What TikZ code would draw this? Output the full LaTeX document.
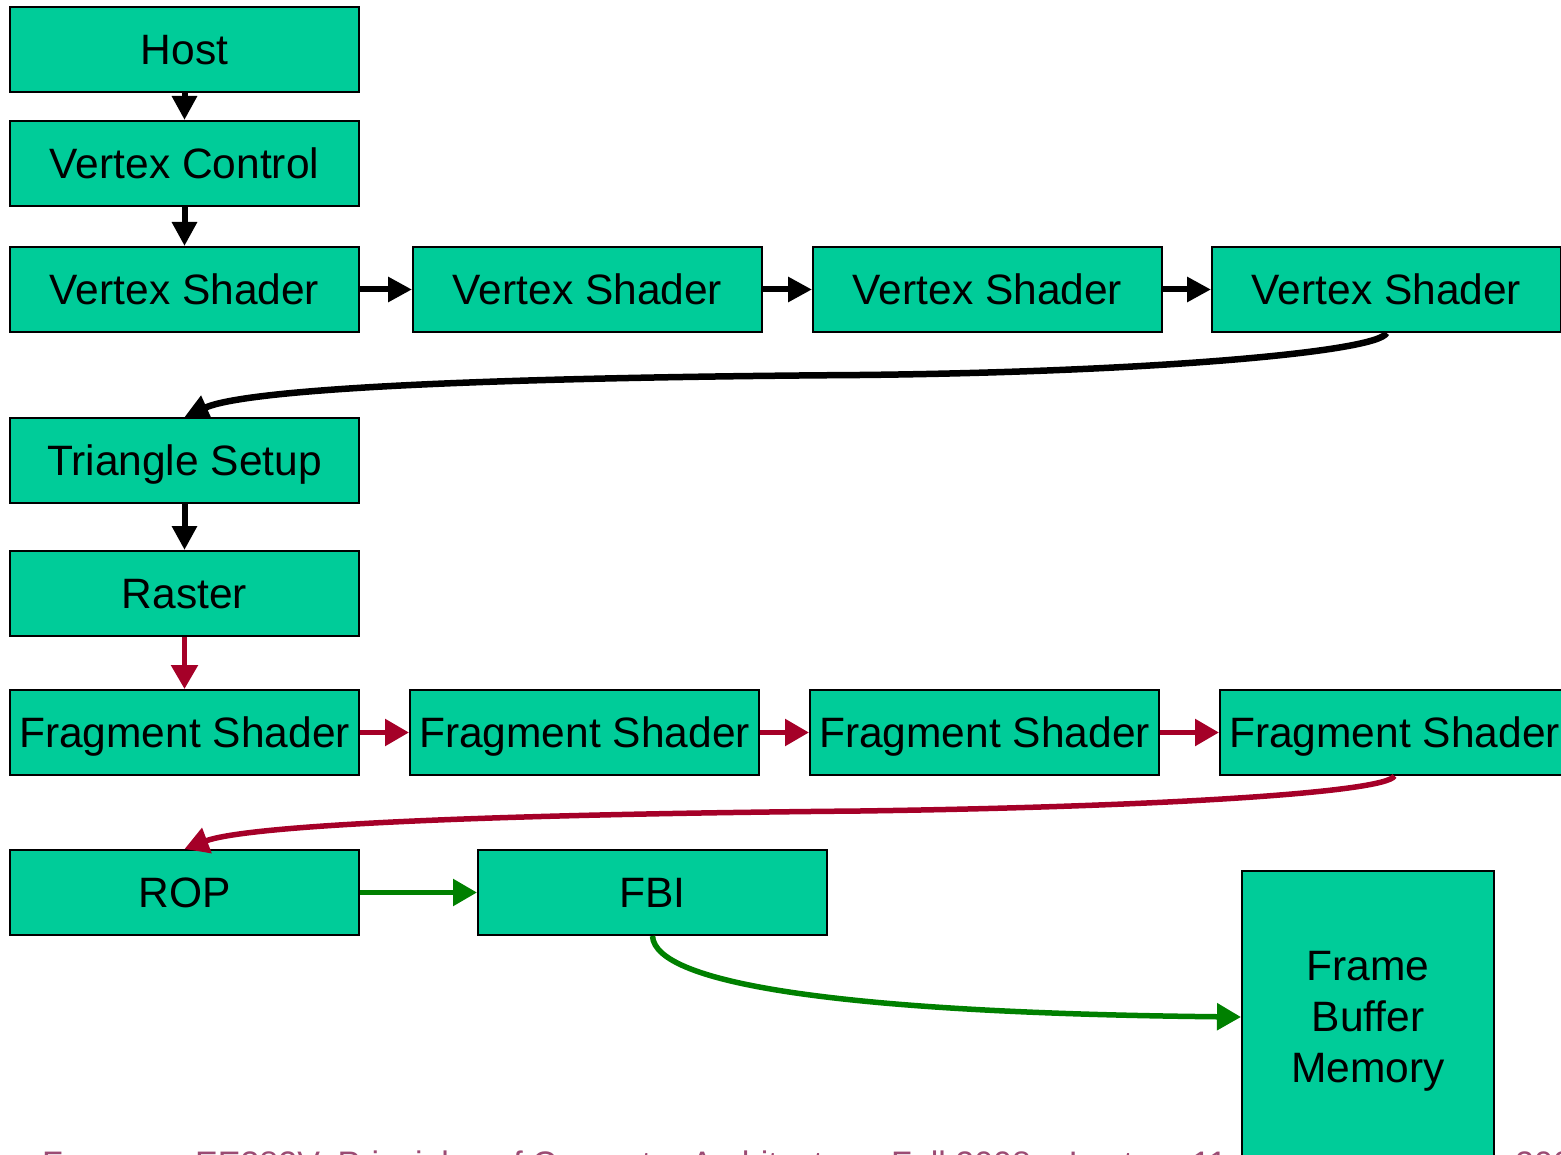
\documentclass[tikz,border=0pt]{standalone}
\usepackage{fontspec}
\setmainfont{Liberation Sans}
\usetikzlibrary{arrows.meta}
\definecolor{boxfill}{RGB}{0,204,153}
\definecolor{flowred}{RGB}{165,0,40}
\definecolor{flowgreen}{RGB}{0,128,0}
\definecolor{footcol}{RGB}{155,75,115}
\begin{document}
\begin{tikzpicture}[x=1pt,y=-1pt,
  stagebase/.style={draw=black, line width=2pt, fill=boxfill, minimum width=349pt,
    minimum height=85pt, inner sep=0pt, font=\fontsize{42.5}{51}\selectfont},
  stage/.style={stagebase, text height=30.5pt, text depth=0pt},
  flow/.style={line width=6pt, -{Triangle[width=24pt,length=24pt]}},
  bendflow/.style={flow, line width=6.5pt},
  redflow/.style={flow, line width=5.5pt, draw=flowred, -{Triangle[width=26pt,length=24pt]}},
  greenflow/.style={flow, line width=5.5pt, draw=flowgreen, -{Triangle[width=26pt,length=24pt]}},
  foottext/.style={anchor=base west, inner sep=0pt, text=footcol, font=\fontsize{34}{40}\selectfont}]
\useasboundingbox (0,0) rectangle (1561,1155);
\clip (0,0) rectangle (1561,1155);

% front end
\node[stage] (host) at (184.5,49.5)  {Host};
\node[stage] (vc)   at (184.5,163.5) {Vertex Control};

% vertex shader chain
\node[stage] (vs1) at (184.5,289.5)  {Vertex Shader};
\node[stage] (vs2) at (587.5,289.5)  {Vertex Shader};
\node[stage] (vs3) at (987.5,289.5)  {Vertex Shader};
\node[stage] (vs4) at (1386.5,289.5) {Vertex Shader};

% setup and raster
\node[stage] (ts)  at (184.5,460.5) {Triangle Setup};
\node[stage] (ras) at (184.5,593.5) {Raster};

% fragment shader chain
\node[stage] (fs1) at (184.5,732.5)  {Fragment Shader};
\node[stage] (fs2) at (584.5,732.5)  {Fragment Shader};
\node[stage] (fs3) at (984.5,732.5)  {Fragment Shader};
\node[stage] (fs4) at (1394.5,732.5) {Fragment Shader};

% back end
\node[stage] (rop) at (184.5,892.5) {ROP};
\node[stage] (fbi) at (652.5,892.5) {FBI};
\node[stagebase, minimum width=252pt, minimum height=292pt,
      label={[align=center, yshift=-4pt, font=\fontsize{42.5}{51}\selectfont]center:Frame\\Buffer\\Memory}]
      (fbm) at (1368,1017) {};

% black (geometry) links
\draw[flow] (host) -- (vc);
\draw[flow] (vc) -- (vs1);
\draw[flow] (vs1) -- (vs2);
\draw[flow] (vs2) -- (vs3);
\draw[flow] (vs3) -- (vs4);
\draw[bendflow] (vs4.south) .. controls (1378,352) and (1150,372) .. (860,375)
                            .. controls (420,378) and (240,392) .. (ts.north);
\draw[flow] (ts) -- (ras);

% red (fragment) links
\draw[redflow] (ras) -- (fs1);
\draw[redflow] (fs1) -- (fs2);
\draw[redflow] (fs2) -- (fs3);
\draw[redflow] (fs3) -- (fs4);
\draw[redflow] (fs4.south) .. controls (1385,793) and (1150,807) .. (860,811)
                           .. controls (420,815) and (240,828) .. (rop.north);

% green (memory) links
\draw[greenflow] (rop) -- (fbi);
\draw[greenflow] (fbi.south) .. controls (655,985) and (850,1013) .. (fbm.west);

% footer line
\node[foottext] (footl) at (42,1175) {From};
\node[foottext] (footc) at (195,1175) {EE382V: Principles of Computer Architecture, Fall 2008 -- Lecture 11};
\node[foottext] (footr) at (1515,1175) {2008};
\end{tikzpicture}
\end{document}
